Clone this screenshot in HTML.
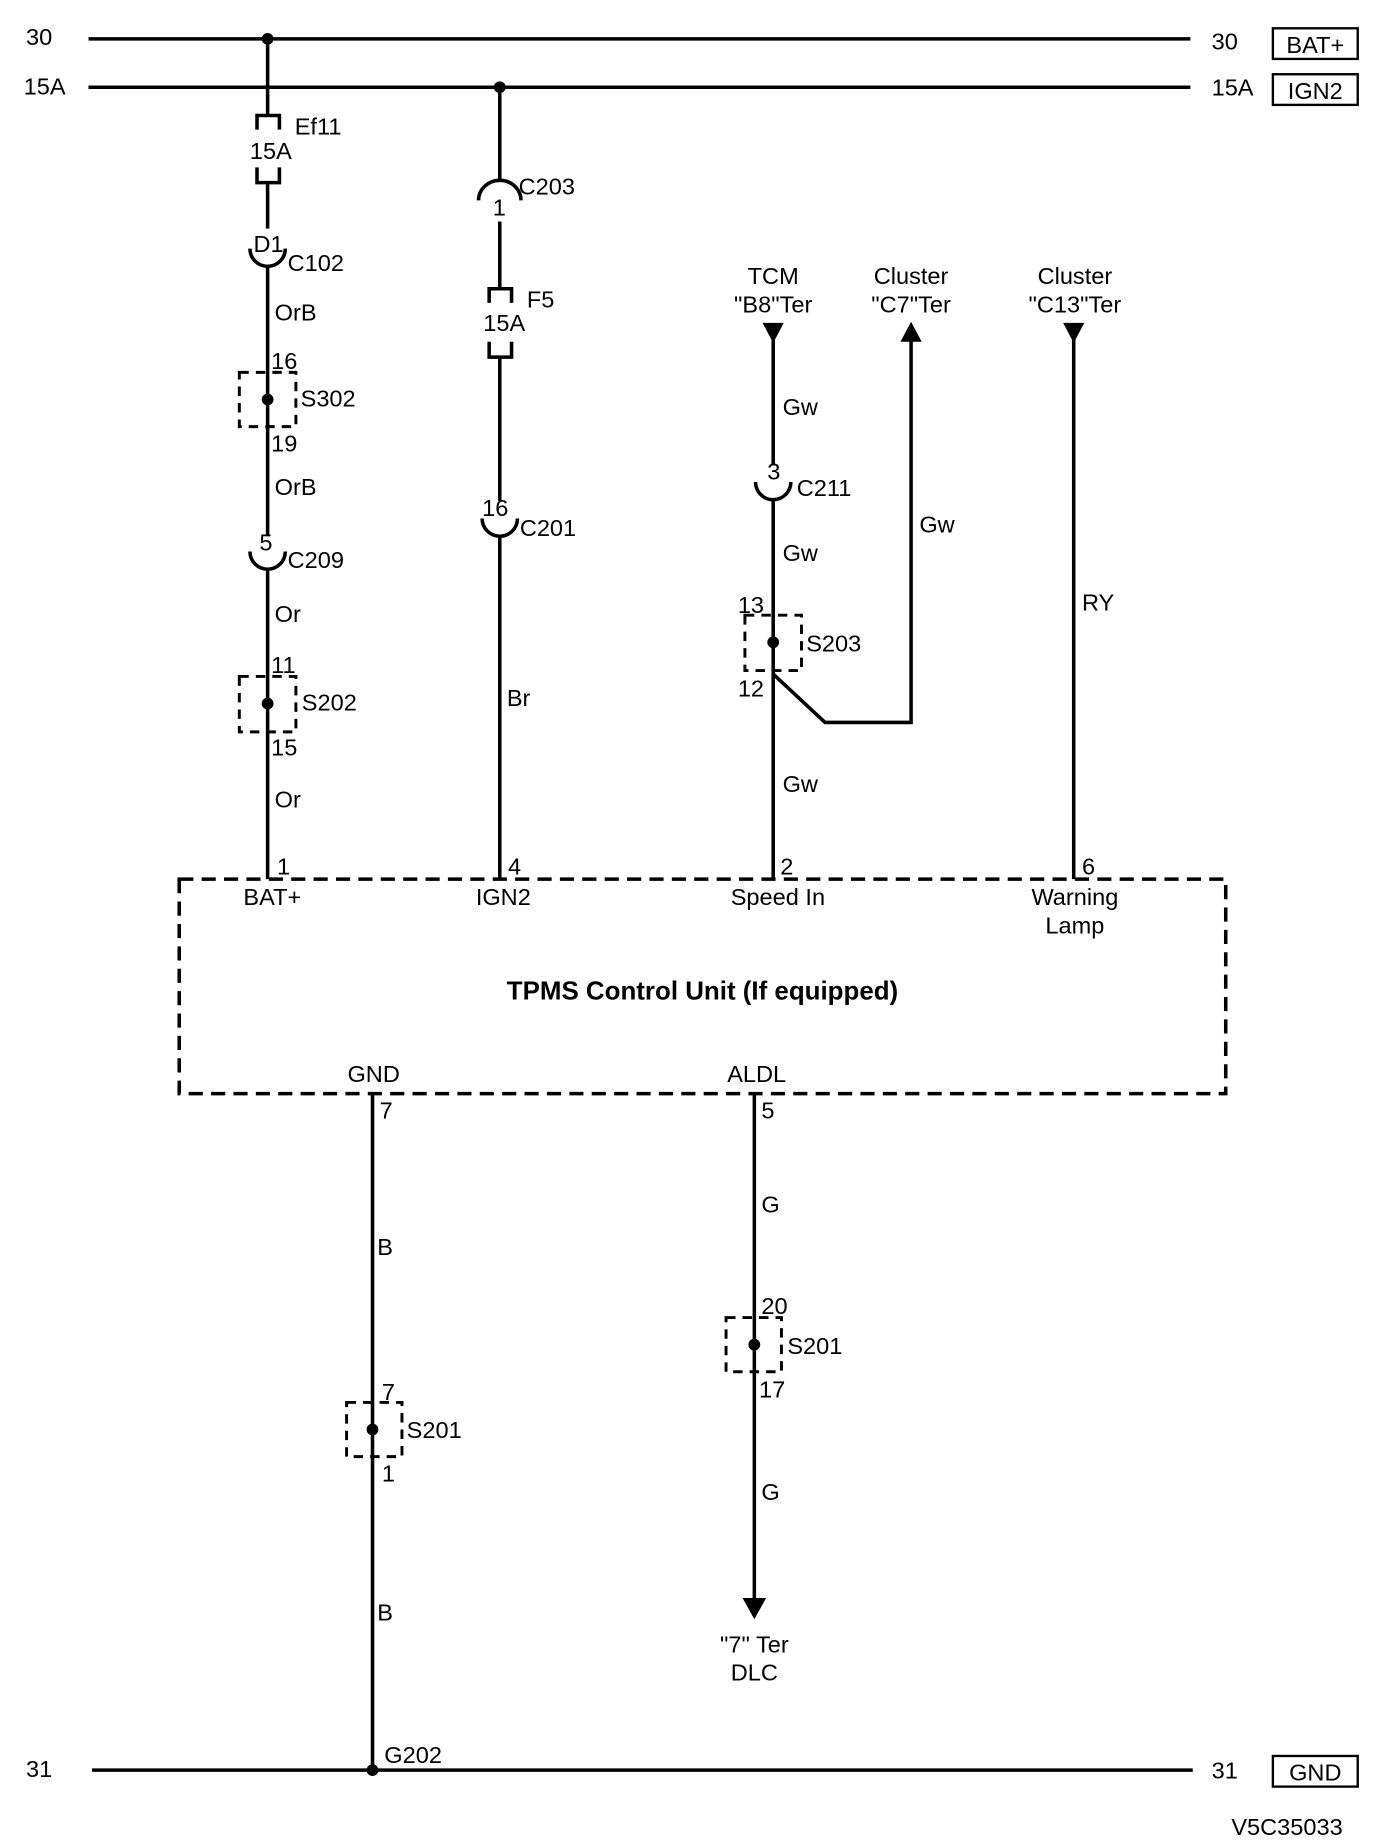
<!DOCTYPE html>
<html><head><meta charset="utf-8"><style>
html,body{margin:0;padding:0;background:#fff;}
svg{display:block;}
text{font-family:"Liberation Sans Narrow","Liberation Sans",sans-serif;font-size:20px;fill:#000;}
</style></head><body>
<svg width="1392" height="1842" viewBox="0 0 1181 1563" xmlns="http://www.w3.org/2000/svg">
<g stroke="#000" stroke-width="3" fill="none">
<line x1="75" y1="33" x2="1010" y2="33"/>
<line x1="75" y1="74" x2="1010" y2="74"/>
<line x1="78" y1="1502" x2="1012" y2="1502"/>
<rect x="1080" y="24" width="72" height="26" stroke-width="2"/>
<rect x="1080" y="63" width="72" height="26" stroke-width="2"/>
<rect x="1080" y="1490" width="72" height="26" stroke-width="2"/>
<!-- wire 1 -->
<line x1="227" y1="33" x2="227" y2="98"/>
<polyline points="218,110 218,98 237,98 237,110"/>
<polyline points="218,142 218,155 237,155 237,142"/>
<line x1="227" y1="155" x2="227" y2="194"/>
<path d="M212,211 A15,15 0 0 0 242,211"/>
<line x1="227" y1="226" x2="227" y2="455"/>
<path d="M212,468 A15,15 0 0 0 242,468"/>
<line x1="227" y1="483" x2="227" y2="746"/>
<!-- wire 2 -->
<line x1="424" y1="74" x2="424" y2="153"/>
<path d="M406,170 A18,17 0 0 1 442,170"/>
<line x1="424" y1="188" x2="424" y2="245"/>
<polyline points="415,257 415,245 434,245 434,257"/>
<polyline points="415,290 415,303 434,303 434,290"/>
<line x1="424" y1="303" x2="424" y2="425"/>
<path d="M409,440 A15,15 0 0 0 439,440"/>
<line x1="424" y1="455" x2="424" y2="746"/>
<!-- wire 3 -->
<line x1="656" y1="288" x2="656" y2="395"/>
<path d="M641,409 A15,15 0 0 0 671,409"/>
<line x1="656" y1="424" x2="656" y2="746"/>
<polyline points="656,572 700,613 773,613 773,288"/>
<line x1="911" y1="288" x2="911" y2="746"/>
<rect x="152" y="746" width="888" height="182" stroke-dasharray="12,7"/>
<line x1="316" y1="928" x2="316" y2="1502"/>
<line x1="640" y1="928" x2="640" y2="1358"/>
<g stroke-width="2.5" stroke-dasharray="8,6">
<rect x="203" y="316" width="48" height="46"/>
<rect x="203" y="574" width="48" height="47"/>
<rect x="632" y="522" width="48" height="47"/>
<rect x="294" y="1190" width="47" height="46"/>
<rect x="616" y="1118" width="47" height="46"/>
</g>
</g>
<g fill="#000">
<circle cx="227" cy="33" r="5"/><circle cx="424" cy="74" r="5"/><circle cx="316" cy="1502" r="5"/>
<circle cx="227" cy="339" r="5"/><circle cx="227" cy="597" r="5"/><circle cx="656" cy="545" r="5"/>
<circle cx="316" cy="1213" r="5"/><circle cx="640" cy="1141" r="5"/>
<polygon points="647,274 665,274 656,291"/>
<polygon points="902,274 920,274 911,291"/>
<polygon points="764,290 782,290 773,273"/>
<polygon points="630,1356 650,1356 640,1374"/>
</g>
<text x="22" y="38">30</text><text x="20" y="80">15A</text><text x="22" y="1508">31</text>
<text x="1028" y="42">30</text><text x="1028" y="81">15A</text><text x="1028" y="1509">31</text>
<text x="1116" y="45" text-anchor="middle">BAT+</text>
<text x="1116" y="84" text-anchor="middle">IGN2</text>
<text x="1116" y="1511" text-anchor="middle">GND</text>
<text x="250" y="114">Ef11</text><text x="212" y="135">15A</text>
<text x="215" y="214">D1</text><text x="244" y="230">C102</text>
<text x="233" y="272">OrB</text>
<text x="230" y="313">16</text><text x="255" y="345">S302</text><text x="230" y="383">19</text>
<text x="233" y="420">OrB</text>
<text x="220" y="467">5</text><text x="244" y="482">C209</text>
<text x="233" y="528">Or</text>
<text x="230" y="571">11</text><text x="256" y="603">S202</text><text x="230" y="641">15</text>
<text x="233" y="685">Or</text><text x="235" y="742">1</text>
<text x="440" y="165">C203</text><text x="418" y="183">1</text>
<text x="447" y="261">F5</text><text x="410" y="281">15A</text>
<text x="409" y="438">16</text><text x="441" y="455">C201</text>
<text x="430" y="599">Br</text><text x="431" y="742">4</text>
<text x="656" y="241" text-anchor="middle">TCM</text><text x="656" y="265" text-anchor="middle">"B8"Ter</text>
<text x="773" y="241" text-anchor="middle">Cluster</text><text x="773" y="265" text-anchor="middle">"C7"Ter</text>
<text x="912" y="241" text-anchor="middle">Cluster</text><text x="912" y="265" text-anchor="middle">"C13"Ter</text>
<text x="664" y="352">Gw</text><text x="651" y="407">3</text><text x="676" y="421">C211</text>
<text x="664" y="476">Gw</text><text x="780" y="452">Gw</text>
<text x="626" y="520">13</text><text x="684" y="553">S203</text><text x="626" y="591">12</text>
<text x="664" y="672">Gw</text><text x="662" y="742">2</text>
<text x="918" y="518">RY</text><text x="918" y="742">6</text>
<text x="231" y="768" text-anchor="middle">BAT+</text>
<text x="427" y="768" text-anchor="middle">IGN2</text>
<text x="660" y="768" text-anchor="middle">Speed In</text>
<text x="912" y="768" text-anchor="middle">Warning</text>
<text x="912" y="792" text-anchor="middle">Lamp</text>
<text x="596" y="848" text-anchor="middle" style="font-size:22px;font-weight:bold">TPMS Control Unit (If equipped)</text>
<text x="317" y="918" text-anchor="middle">GND</text>
<text x="642" y="918" text-anchor="middle">ALDL</text>
<text x="322" y="949">7</text><text x="320" y="1065">B</text>
<text x="324" y="1188">7</text><text x="345" y="1220">S201</text><text x="324" y="1257">1</text>
<text x="320" y="1375">B</text><text x="326" y="1496">G202</text>
<text x="646" y="949">5</text><text x="646" y="1029">G</text>
<text x="646" y="1115">20</text><text x="668" y="1149">S201</text><text x="644" y="1186">17</text>
<text x="646" y="1273">G</text>
<text x="640" y="1402" text-anchor="middle">"7" Ter</text>
<text x="640" y="1426" text-anchor="middle">DLC</text>
<text x="1092" y="1557" text-anchor="middle">V5C35033</text>
</svg>
</body></html>
